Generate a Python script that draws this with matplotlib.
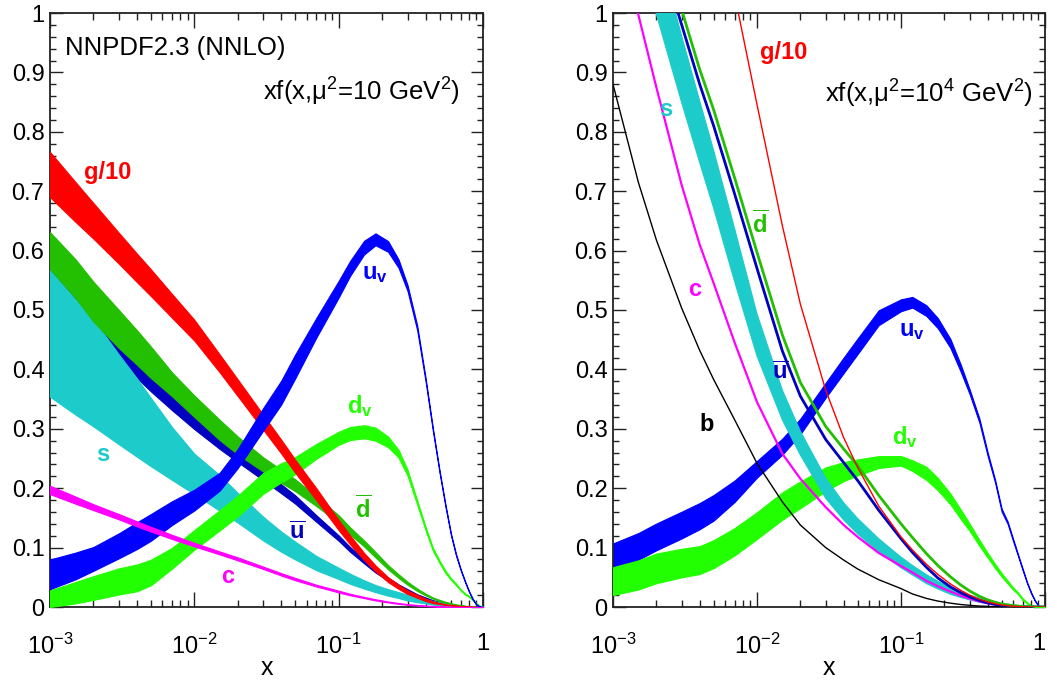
import numpy as np
import matplotlib
matplotlib.use('Agg')
import matplotlib.pyplot as plt
from matplotlib.ticker import FixedLocator, LogLocator, MultipleLocator, NullFormatter, FuncFormatter

plt.rcParams['font.family'] = ['Liberation Sans', 'DejaVu Sans']
plt.rcParams['mathtext.fontset'] = 'custom'
plt.rcParams['mathtext.rm'] = 'Liberation Sans'
plt.rcParams['mathtext.it'] = 'Liberation Sans:italic'
plt.rcParams['mathtext.bf'] = 'Liberation Sans:bold'

# x grid shared by both panels
X = [1e-3, 1.5e-3, 2e-3, 3e-3, 4e-3, 5e-3, 7e-3,
     1e-2, 1.5e-2, 2e-2, 3e-2, 4e-2, 5e-2, 7e-2,
     0.1, 0.12, 0.15, 0.18, 0.22, 0.26, 0.3,
     0.35, 0.4, 0.45, 0.5, 0.55, 0.6, 0.65,
     0.7, 0.75, 0.8, 0.85, 0.9, 0.95, 1.0]

# ---------------- left panel (mu^2 = 10 GeV^2): band centres and widths ----------------
g_c_L = [.728, .682, .650, .604, .571, .546, .507,
         .466, .410, .369, .311, .270, .237, .190,
         .138, .113, .085, .065, .046, .034, .025,
         .018, .012, .008, .006, .004, .003, .002,
         .0015, .001, .0006, .0003, .0001, 0, 0]
g_w_L = [.076, .067, .060, .052, .048, .045, .040,
         .035, .030, .028, .025, .023, .022, .020,
         .017, .015, .012, .010, .008, .007, .006,
         .005, .004, .003, .002, .0015, .001, .001,
         .0008, .0005, .0004, .0002, .0001, 0, 0]

dbar_c_L = [.600, .553, .514, .468, .437, .412, .375,
            .338, .298, .272, .240, .220, .205, .178,
            .148, .128, .107, .088, .067, .052, .040,
            .029, .021, .015, .011, .008, .006, .004,
            .003, .002, .0012, .0007, .0003, .0001, 0]
dbar_w_L = [.062, .065, .067, .064, .058, .053, .040,
            .036, .034, .030, .024, .022, .020, .016,
            .013, .012, .010, .009, .007, .006, .005,
            .004, .003, .002, .002, .0015, .001, .001,
            .0005, .0005, .0004, .0002, .0001, 0, 0]

ubar_c_L = [.552, .505, .472, .430, .400, .377, .345,
            .312, .277, .254, .222, .199, .181, .149,
            .116, .097, .077, .061, .047, .036, .028,
            .020, .0145, .0105, .0078, .0055, .004, .0028,
            .002, .0013, .0008, .0004, .0002, 0, 0]
ubar_w_L = [.035, .034, .033, .030, .029, .028, .027,
            .025, .022, .020, .017, .015, .014, .011,
            .009, .008, .007, .006, .005, .004, .004,
            .003, .003, .002, .002, .001, .001, .001,
            .0005, .0005, .0003, .0002, .0001, 0, 0]

s_c_L = [.4605, .421, .394, .3495, .319, .2945, .2585,
         .224, .192, .167, .132, .110, .095, .074,
         .0565, .0475, .038, .031, .0245, .020, .016,
         .0125, .0095, .007, .0055, .004, .003, .0021,
         .00145, .0009, .0005, .00025, .0001, 0, 0]
s_w_L = [.213, .194, .180, .151, .132, .115, .089,
         .068, .060, .050, .040, .034, .030, .024,
         .019, .017, .014, .012, .011, .010, .010,
         .009, .007, .006, .005, .004, .0031, .0024,
         .0019, .0014, .001, .0005, .0002, 0, 0]

c_c_L = [.197, .180, .168, .152, .140, .131, .118,
         .105, .091, .081, .066, .055, .047, .036,
         .026, .021, .016, .012, .0085, .006, .0043,
         .003, .002, .0013, .0008, .0005, .0003, .0001,
         0, 0, 0, 0, 0, 0, 0]
c_w_L = [.014, .012, .010, .009, .0085, .008, .007,
         .006, .005, .005, .004, .004, .004, .003,
         .003, .0025, .002, .002, .0015, .0015, .001,
         .001, .001, .0008, .0006, .0004, .0002, .0001,
         0, 0, 0, 0, 0, 0, 0]

uv_c_L = [.055, .069, .081, .103, .120, .134, .158,
          .180, .211, .250, .316, .361, .405, .470,
          .535, .570, .605, .619, .607, .578, .537,
          .470, .383, .298, .228, .170, .122, .088,
          .063, .043, .026, .013, .004, .0007, 0]
uv_w_L = [.050, .045, .040, .042, .045, .045, .040,
          .035, .030, .032, .038, .040, .040, .033,
          .028, .025, .023, .020, .018, .014, .010,
          .008, .006, .005, .004, .004, .003, .003,
          .002, .002, .0015, .001, .001, .0005, 0]

dv_c_L = [.014, .024, .032, .043, .049, .058, .082,
          .113, .146, .170, .208, .226, .238, .262,
          .284, .292, .295, .291, .278, .258, .226,
          .176, .132, .097, .076, .059, .047, .038,
          .029, .022, .018, .012, .006, .002, 0]
dv_w_L = [.028, .036, .040, .044, .045, .043, .035,
          .033, .034, .035, .035, .032, .029, .025,
          .022, .022, .022, .022, .018, .013, .010,
          .007, .006, .005, .004, .004, .003, .003,
          .002, .002, .0015, .001, .001, .0005, 0]

# ---------------- right panel (mu^2 = 10^4 GeV^2) ----------------
b_R = [.880, .715, .618, .503, .432, .383, .315,
       .242, .177, .138, .100, .079, .064, .046,
       .031, .022, .0145, .010, .0065, .0042, .0028,
       .0016, .001, .0005, .0003, .0001, 0, 0,
       0, 0, 0, 0, 0, 0, 0]
c_R = [1.20, .997, .875, .710, .610, .545, .445,
       .345, .258, .216, .168, .138, .118, .091,
       .069, .058, .044, .035, .026, .019, .014,
       .0095, .0062, .004, .0025, .0015, .0009, .0005,
       .0002, 0, 0, 0, 0, 0, 0]
ubar_R = [1.36, 1.22, 1.12, .98, .88, .81, .695,
          .570, .431, .355, .282, .243, .213, .163,
          .115, .092, .067, .049, .034, .024, .017,
          .011, .007, .0045, .003, .002, .0013, .0008,
          .0005, .0003, .0001, 0, 0, 0, 0]
dbar_R = [1.39, 1.25, 1.145, 1.005, .905, .837, .722,
          .597, .458, .378, .304, .266, .238, .188,
          .140, .117, .090, .070, .051, .037, .027,
          .018, .012, .008, .005, .0035, .0023, .0015,
          .0009, .0005, .0003, .0001, 0, 0, 0]
g_R = [2.2, 1.95, 1.75, 1.5, 1.33, 1.22, 1.03,
       .846, .642, .510, .365, .285, .235, .170,
       .118, .096, .072, .055, .039, .028, .020,
       .013, .0085, .0055, .0035, .0022, .0014, .0008,
       .0005, .0003, .0001, 0, 0, 0, 0]

s_c_R = [1.35, 1.17, 1.06, .905, .800, .720, .592,
         .458, .340, .276, .200, .161, .136, .104,
         .075, .062, .047, .037, .027, .021, .016,
         .0115, .0085, .006, .0045, .0033, .0024, .0017,
         .0011, .0007, .0004, .0002, .0001, 0, 0]
s_w_R = [.15, .14, .124, .112, .104, .097, .089,
         .071, .050, .040, .034, .029, .026, .022,
         .018, .016, .015, .013, .011, .010, .008,
         .007, .006, .005, .004, .003, .0025, .002,
         .0015, .001, .0008, .0004, .0002, 0, 0]

uv_c_R = [.0845, .102, .118, .138, .153, .167, .195,
          .232, .270, .304, .365, .407, .439, .487,
          .508, .513, .499, .478, .444, .402, .362,
          .314, .257, .212, .163, .142, .113, .087,
          .063, .041, .024, .011, .002, .0004, 0]
uv_w_R = [.045, .045, .045, .045, .044, .043, .036,
          .028, .027, .026, .025, .026, .026, .025,
          .020, .018, .018, .017, .015, .012, .008,
          .007, .006, .005, .005, .004, .004, .003,
          .003, .002, .002, .001, .001, 0, 0]

dv_c_R = [.0435, .054, .065, .074, .079, .089, .110,
          .137, .170, .189, .215, .228, .235, .244,
          .246, .238, .225, .207, .182, .156, .134,
          .108, .087, .069, .054, .042, .031, .023,
          .013, .007, .0025, .0008, .0002, 0, 0]
dv_w_R = [.047, .049, .050, .048, .047, .047, .046,
          .045, .046, .045, .040, .032, .027, .020,
          .016, .018, .022, .021, .018, .016, .012,
          .010, .008, .007, .006, .005, .004, .003,
          .003, .002, .001, .001, .0005, 0, 0]

XTICKS = [1e-3, 1e-2, 1e-1, 1]
XTICK_LABELS = [r'$10^{-3}$', r'$10^{-2}$', r'$10^{-1}$', '1']

COL = dict(g='#ff0000', dbar='#22c000', ubar='#0000c0', s='#1ecbcb', c='#ff00ff',
           uv='#0000ff', dv='#22ff00', b='#000000')

fig = plt.figure(figsize=(10.48, 6.84), dpi=100)
axL = fig.add_axes([50/1048, 1-607/684, 433/1048, 594/684])
axR = fig.add_axes([613/1048, 1-607/684, 432/1048, 594/684])


def yfmt(v, pos):
    if abs(v) < 1e-9:
        return '0'
    if abs(v - 1) < 1e-9:
        return '1'
    return f'{v:.1f}'


def style(ax):
    ax.set_xscale('log')
    ax.set_xlim(1e-3, 1)
    ax.set_ylim(0, 1)
    ax.xaxis.set_major_locator(FixedLocator(XTICKS))
    ax.set_xticklabels(XTICK_LABELS)
    ax.xaxis.set_minor_locator(LogLocator(base=10, subs=np.arange(2, 10)))
    ax.xaxis.set_minor_formatter(NullFormatter())
    ax.yaxis.set_major_locator(MultipleLocator(0.1))
    ax.yaxis.set_minor_locator(MultipleLocator(0.02))
    ax.yaxis.set_major_formatter(FuncFormatter(yfmt))
    ax.tick_params(which='both', direction='in', top=True, right=True, width=1.0, colors='#222222')
    ax.tick_params(axis='x', which='major', length=11, labelsize=17, pad=19, labelcolor='black')
    ax.tick_params(axis='x', which='minor', length=5)
    ax.tick_params(axis='y', which='major', length=9, labelsize=17, pad=4, labelcolor='black')
    ax.tick_params(axis='y', which='minor', length=4.5)
    ax.set_xlabel('x', fontsize=18, labelpad=-2)
    for sp in ax.spines.values():
        sp.set_linewidth(1.3)
        sp.set_color('#222222')


def band(ax, x, centre, width, color, z):
    c = np.asarray(centre)
    w = np.asarray(width) / 2.0
    ax.fill_between(x, c - w, c + w, facecolor=color, edgecolor=color, linewidth=0.8, zorder=z)


style(axL)
style(axR)

# left panel
band(axL, X, ubar_c_L, ubar_w_L, COL['ubar'], 2)
band(axL, X, s_c_L, s_w_L, COL['s'], 3)
band(axL, X, dbar_c_L, dbar_w_L, COL['dbar'], 4)
band(axL, X, dv_c_L, dv_w_L, COL['dv'], 5)
band(axL, X, g_c_L, g_w_L, COL['g'], 6)
band(axL, X, uv_c_L, uv_w_L, COL['uv'], 7)
band(axL, X, c_c_L, c_w_L, COL['c'], 8)

head = dict(fontsize=18.5, va='center')
axL.text(0.035, 0.941, 'NNPDF2.3 (NNLO)', transform=axL.transAxes, ha='left', **head)
axL.text(0.947, 0.867, r'xf(x,$\mathrm{\mu}^{2}$=10 GeV$^{2}$)', transform=axL.transAxes,
         ha='right', **head)

lab = dict(fontsize=17, fontweight='bold', ha='center', va='center', zorder=10)
axL.text(0.00252, 0.732, 'g/10', color=COL['g'], **lab)
axL.text(0.178, 0.561, r'$\mathbf{u}_{\mathbf{v}}$', color=COL['uv'], **lab)
axL.text(0.140, 0.338, r'$\mathbf{d}_{\mathbf{v}}$', color=COL['dv'], **lab)
axL.text(0.147, 0.163, r'$\overline{\mathbf{d}}$', color=COL['dbar'], **lab)
axL.text(0.0513, 0.125, r'$\overline{\mathbf{u}}$', color=COL['ubar'], **lab)
axL.text(0.00233, 0.256, 's', color=COL['s'], **lab)
axL.text(0.0171, 0.052, 'c', color=COL['c'], **lab)

# right panel
band(axR, X, uv_c_R, uv_w_R, COL['uv'], 2)
band(axR, X, dv_c_R, dv_w_R, COL['dv'], 3)
band(axR, X, s_c_R, s_w_R, COL['s'], 4)
axR.plot(X, c_R, color=COL['c'], lw=1.6, zorder=5)
axR.plot(X, b_R, color=COL['b'], lw=1.0, zorder=5)
axR.plot(X, ubar_R, color=COL['ubar'], lw=2.0, zorder=6)
axR.plot(X, dbar_R, color=COL['dbar'], lw=2.0, zorder=7)
axR.plot(X, g_R, color=COL['g'], lw=1.0, zorder=8)

axR.text(0.972, 0.864, r'xf(x,$\mathrm{\mu}^{2}$=10$^{4}$ GeV$^{2}$)', transform=axR.transAxes,
         ha='right', **head)
axR.text(0.0154, 0.934, 'g/10', color=COL['g'], **lab)
axR.text(0.00233, 0.837, 's', color=COL['s'], **lab)
axR.text(0.0105, 0.643, r'$\overline{\mathbf{d}}$', color=COL['dbar'], **lab)
axR.text(0.00371, 0.534, 'c', color=COL['c'], **lab)
axR.text(0.119, 0.466, r'$\mathbf{u}_{\mathbf{v}}$', color=COL['uv'], **lab)
axR.text(0.0145, 0.394, r'$\overline{\mathbf{u}}$', color=COL['ubar'], **lab)
axR.text(0.0045, 0.308, 'b', color=COL['b'], **lab)
axR.text(0.107, 0.286, r'$\mathbf{d}_{\mathbf{v}}$', color=COL['dv'], **lab)

axR.get_xticklabels()[-1].set_horizontalalignment('right')

fig.savefig('out.png', dpi=100)
